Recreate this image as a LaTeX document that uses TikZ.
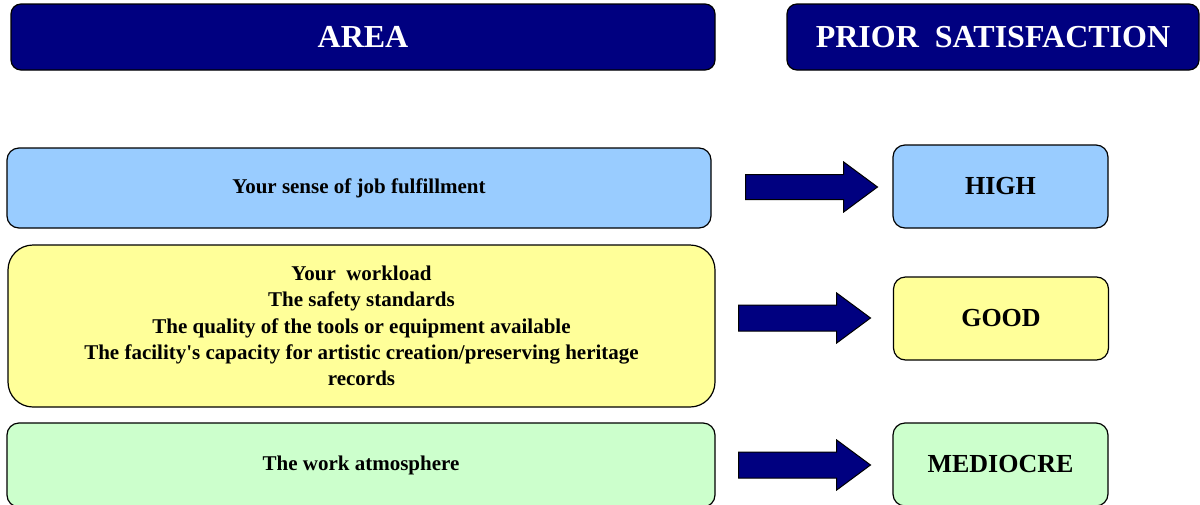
\documentclass[tikz,border=0pt]{standalone}
\usepackage{fontspec}
\setmainfont{LiberationSerif}[Extension=.ttf, UprightFont=*-Regular, BoldFont=*-Bold, Ligatures=TeXOff]
\usetikzlibrary{shapes.arrows,positioning}
\definecolor{navy}{RGB}{0,0,128}
\definecolor{skyfill}{RGB}{153,204,255}
\definecolor{lemonfill}{RGB}{255,255,153}
\definecolor{mintfill}{RGB}{204,255,204}
\tikzset{
     head box/.style={draw=black, fill=navy, text=white, rounded corners=10pt,
       line width=1.2pt, minimum height=66pt, font=\fontsize{32}{38}\selectfont\bfseries},
     area box/.style={draw=black, line width=1.2pt, align=center,
       font=\fontsize{21}{26.3}\selectfont\bfseries},
     level box/.style={draw=black, line width=1.2pt, rounded corners=12pt,
       minimum width=215pt, minimum height=83pt, font=\fontsize{26}{30}\selectfont\bfseries},
     block arrow/.style={single arrow, draw=black, fill=navy, line width=1pt,
       anchor=tail, inner xsep=0pt, inner ysep=12.5pt, minimum width=0pt,
       minimum height=132pt, single arrow head extend=12pt, single arrow tip angle=73},
    }

\begin{document}
\begin{tikzpicture}[x=1pt,y=-1pt]
        \useasboundingbox (0,0) rectangle (1200,504);
        % headers
        \node [head box, minimum width=704pt] (area) at (363,37) {AREA};
        \node [head box, minimum width=412pt] (prior) at (993,37) {PRIOR\ \ SATISFACTION};
        % areas
        \node [area box, fill=skyfill, rounded corners=12pt, minimum width=704pt, minimum height=80pt]
              (job) at (359,188) {Your sense of job fulfillment};
        \node [area box, fill=lemonfill, rounded corners=25pt, minimum width=707pt, minimum height=162pt]
              (load) at (361.5,326) {Your\ \ workload\\The safety standards\\The quality of the tools or equipment available\\
              The facility's capacity for artistic creation/preserving heritage\\records};
        \node [area box, fill=mintfill, rounded corners=12pt, minimum width=708pt, minimum height=84pt]
              (mood) at (361,465) {The work atmosphere};
        % levels
        \node [level box, fill=skyfill] (high) at (1000.5,186.5) {HIGH};
        \node [level box, fill=lemonfill] (good) at (1001,318.5) {GOOD};
        \node [level box, fill=mintfill] (medio) at (1000.5,464.5) {MEDIOCRE};
        % arrows
        \node [block arrow, inner ysep=12pt, single arrow head extend=12.5pt] (arr1) at (745,187) {};
        \node [block arrow] (arr2) at (738,318) {};
        \node [block arrow] (arr3) at (738,465) {};
    \end{tikzpicture}
\end{document}
